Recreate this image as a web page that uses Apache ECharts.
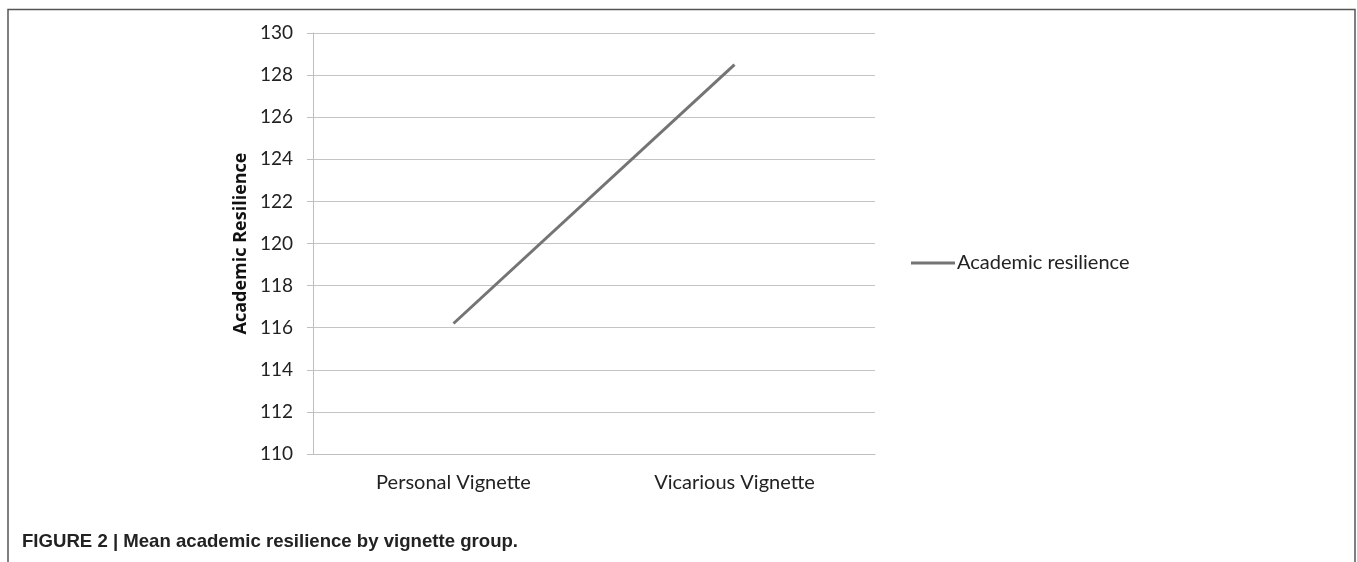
<!DOCTYPE html>
<html>
<head>
<meta charset="utf-8">
<script src="https://cdn.jsdelivr.net/npm/echarts@6/dist/echarts.min.js"></script>
<style>
  html, body { margin: 0; padding: 0; background: #fff; }
  #main { width: 1357px; height: 562px; }
</style>
</head>
<body>
<div id="main"></div>
<script>
// data
var categories = ["Personal Vignette", "Vicarious Vignette"];
var resilience = [116.2, 128.5];
var yMin = 110, yMax = 130, yStep = 2;

var chart = echarts.init(document.getElementById("main"), null, { renderer: "canvas" });

var option = {
  animation: false,
  backgroundColor: "#fff",
  textStyle: { fontFamily: "Lato, 'Open Sans', sans-serif" },
  grid: { left: 313, top: 33, right: 482, bottom: 108 },
  legend: {
    data: ["Academic resilience"],
    orient: "vertical",
    left: 906,
    top: 248,
    itemWidth: 44,
    itemHeight: 3,
    itemGap: 4,
    icon: "rect",
    textStyle: { color: "#222", fontSize: 20, fontFamily: "Lato, sans-serif", padding: [0, 0, 0, -3] }
  },
  xAxis: {
    type: "category",
    data: categories,
    boundaryGap: true,
    axisLine: { lineStyle: { color: "#bfbfbf", width: 1 } },
    axisTick: { show: false },
    axisLabel: { color: "#222", fontSize: 20, margin: 19 }
  },
  yAxis: {
    type: "value",
    min: yMin,
    max: yMax,
    interval: yStep,
    name: "Academic Resilience",
    nameLocation: "middle",
    nameGap: 63,
    nameTextStyle: { color: "#111", fontSize: 18, fontWeight: "bold", fontFamily: "'Open Sans', sans-serif" },
    axisLine: { show: true, lineStyle: { color: "#bfbfbf", width: 1 } },
    axisTick: { show: true, length: 6, lineStyle: { color: "#bfbfbf" } },
    axisLabel: { color: "#222", fontSize: 19, margin: 20 },
    splitLine: { lineStyle: { color: "#c4c4c4", width: 1 } }
  },
  series: [
    {
      name: "Academic resilience",
      type: "line",
      data: resilience,
      showSymbol: false,
      symbol: "none",
      lineStyle: { color: "#747474", width: 3 },
      itemStyle: { color: "#747474" }
    }
  ],
  graphic: [
    {
      type: "polyline",
      shape: { points: [[8, 600], [8, 9.5], [1355, 9.5], [1355, 600]] },
      style: { stroke: "#555", lineWidth: 1.5, fill: null },
      silent: true
    },
    {
      type: "text",
      left: 22,
      top: 532,
      style: {
        text: "FIGURE 2 | Mean academic resilience by vignette group.",
        fill: "#222",
        font: "bold 18.6px 'Liberation Sans', Arial, sans-serif"
      }
    }
  ]
};

chart.setOption(option);
</script>
</body>
</html>
